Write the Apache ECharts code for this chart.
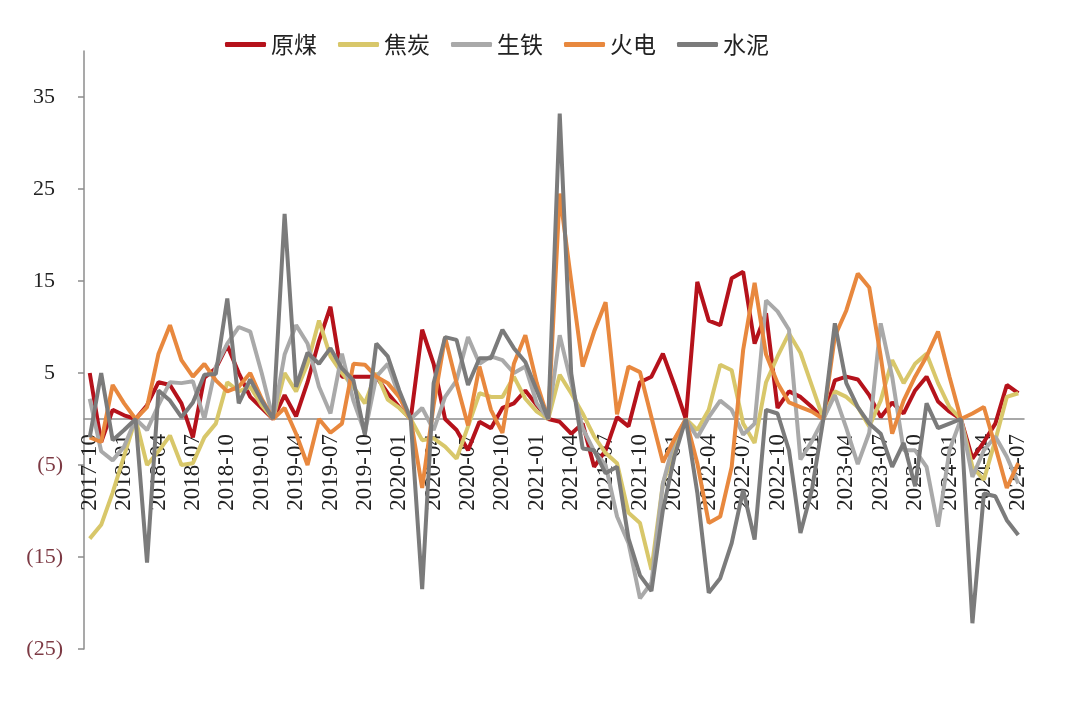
<!DOCTYPE html>
<html>
<head>
<meta charset="utf-8">
<script src="https://cdn.jsdelivr.net/npm/echarts@6/dist/echarts.min.js"></script>
<style>
  html, body { margin: 0; padding: 0; background: #fff; }
  #chart { width: 1080px; height: 723px; }
</style>
</head>
<body>
<div id="chart"></div>
<script>
// monthly categories 2017-10 .. 2024-07
var months = [
  '2017-10','2017-11','2017-12',
  '2018-01','2018-02','2018-03','2018-04','2018-05','2018-06','2018-07','2018-08','2018-09','2018-10','2018-11','2018-12',
  '2019-01','2019-02','2019-03','2019-04','2019-05','2019-06','2019-07','2019-08','2019-09','2019-10','2019-11','2019-12',
  '2020-01','2020-02','2020-03','2020-04','2020-05','2020-06','2020-07','2020-08','2020-09','2020-10','2020-11','2020-12',
  '2021-01','2021-02','2021-03','2021-04','2021-05','2021-06','2021-07','2021-08','2021-09','2021-10','2021-11','2021-12',
  '2022-01','2022-02','2022-03','2022-04','2022-05','2022-06','2022-07','2022-08','2022-09','2022-10','2022-11','2022-12',
  '2023-01','2023-02','2023-03','2023-04','2023-05','2023-06','2023-07','2023-08','2023-09','2023-10','2023-11','2023-12',
  '2024-01','2024-02','2024-03','2024-04','2024-05','2024-06','2024-07'
];

var seriesNames = ['原煤', '焦炭', '生铁', '火电', '水泥'];
var seriesColors = ['#b5121b', '#d8c76a', '#a9a9a9', '#e8883e', '#7b7b7b'];

var coal = [
  5, -2.5, 1,
  0.4, 0, 1.5, 4, 3.7, 1.7, -2, 4.5, 5.5, 8, 5, 2.4,
  1.2, 0, 2.6, 0.3, 4, 8.5, 12.2, 4.6, 4.6, 4.6, 4.6, 2.8,
  1.3, 0, 9.7, 6, 0, -1.2, -3.4, -0.3, -1, 1.2, 1.7, 3.1,
  1.5, 0, -0.3, -1.6, -0.5, -5.2, -3.4, 0.2, -0.8, 4, 4.6, 7.1,
  3.7, 0, 14.9, 10.7, 10.2, 15.3, 16, 8.2, 11.5, 1.2, 3, 2.4,
  1.3, 0, 4.2, 4.6, 4.3, 2.6, 0.2, 1.8, 0.6, 3.1, 4.6, 1.9,
  0.8, 0, -4.3, -2.5, -0.5, 3.7, 2.8
];

var coke = [
  -13, -11.5, -8,
  -4, 0, -5, -3.5, -1.8, -5, -4.8, -2, -0.5, 4, 3, 3.5,
  1.5, 0, 5, 3, 6, 10.7, 6.8, 5, 3.5, 1.7, 5, 2.1,
  1.2, 0, -2.3, -2.1, -3, -4.3, -0.8, 2.8, 2.4, 2.4, 4.6, 2.2,
  0.8, 0, 4.8, 2.8, 0.6, -1.9, -3.7, -4.8, -10.2, -11.3, -16.4, -7,
  -3.4, 0, -1.2, 1, 5.9, 5.3, -0.5, -2.6, 4, 6.8, 9.3, 7.2,
  3.6, 0, 3, 2.4, 1.3, -0.8, 2, 6.4, 3.9, 6, 7.1, 3.9,
  1.3, 0, -5.2, -6.6, -2.3, 2.4, 2.8
];

var pigIron = [
  2.2, -3.5, -4.5,
  -3, 0, -1.2, 1.5, 4, 3.9, 4.1, 0, 5.7, 8.2, 10, 9.5,
  5, 0, 7, 10.2, 8.2, 3.5, 0.6, 7.1, 2, -1.5, 4.6, 6,
  2.4, 0, 1.2, -1.2, 2.4, 4.2, 8.9, 6, 6.8, 6.4, 5, 5.7,
  1.7, 0, 9.1, 3.9, -1, -3.5, -5, -10.6, -13.5, -19.5, -17.8, -7,
  -2.3, 0, -2, 0.2, 2, 1, -1.7, -0.5, 12.9, 11.7, 9.7, -4.4,
  -2.4, 0, 2.6, -1, -4.9, -1.5, 10.4, 4.6, -3.4, -3.4, -5.2, -11.7,
  -3.4, 0, -6.3, -3.4, -1.9, -4.1, -7
];

var thermal = [
  -2, -2.5, 3.7,
  1.7, 0, 1.3, 7.1, 10.2, 6.4, 4.6, 6, 4.2, 3, 3.5, 5,
  2.2, 0, 1.2, -1.6, -5, 0, -1.5, -0.5, 6, 5.9, 4.6, 3.9,
  2.4, 0, -7.5, 1.5, 8.9, 3.9, -0.7, 5.7, 1, -1.5, 6, 9.1,
  3.9, 0, 24.5, 15, 5.7, 9.5, 12.7, 0.5, 5.7, 5.1, 0.2, -4.7,
  -2.2, 0, -4.8, -11.3, -10.6, -5.2, 7.5, 14.8, 7, 3.9, 1.8, 1.3,
  0.8, 0, 9, 11.8, 15.8, 14.3, 6.8, -1.6, 2, 4.6, 6.8, 9.5,
  4.6, 0, 0.6, 1.3, -3, -7.5, -4.8
];

var cement = [
  -2, 5, -2.3,
  -1.2, 0, -15.6, 3.1, 2, 0.2, 1.8, 4.8, 4.9, 13.1, 1.7, 4.3,
  2, 0, 22.3, 3.5, 7.2, 6, 7.7, 5.5, 4.2, -1.7, 8.2, 6.8,
  3.1, 0, -18.5, 3.9, 8.9, 8.6, 3.7, 6.6, 6.6, 9.7, 7.7, 6.2,
  3.1, 0, 33.2, 5, -3.2, -3.4, -5.9, -5.2, -13, -17, -18.7, -9.9,
  -4.1, 0, -8, -18.9, -17.3, -13.5, -7.7, -13.1, 1, 0.6, -3.4, -12.4,
  -7.7, 0, 10.4, 3.9, 1.3, -0.5, -1.6, -5.2, -2.6, -7.3, 1.7, -1,
  -0.5, 0, -22.2, -8.1, -8.4, -11, -12.6
];

var yTicks = [-25, -15, -5, 5, 15, 25, 35];
var yMin = -25, yMax = 40;

var seriesData = [coal, coke, pigIron, thermal, cement];

var gridTop = 51, gridBottom = 74;
var gridH = 723 - gridTop - gridBottom;
// lift the category axis up to the zero line
var zeroOffset = -gridH * (0 - yMin) / (yMax - yMin);

var chart = echarts.init(document.getElementById('chart'));

var option = {
  animation: false,
  backgroundColor: '#fff',
  legend: {
    top: 28,
    left: 220,
    icon: 'roundRect',
    itemWidth: 41,
    itemHeight: 5,
    itemGap: 21,
    textStyle: { fontSize: 23, color: '#222', fontFamily: 'Noto Sans CJK SC' },
    data: seriesNames
  },
  grid: { left: 84, right: 56, top: gridTop, bottom: gridBottom, outerBoundsMode: 'none' },
  xAxis: {
    type: 'category',
    data: months,
    boundaryGap: true,
    offset: zeroOffset,
    axisLine: { onZero: false, lineStyle: { color: '#8c8c8c', width: 1.5 } },
    axisTick: { interval: 2, length: 5, lineStyle: { color: '#8c8c8c', width: 1.5 } },
    axisLabel: {
      interval: 2,
      rotate: 90,
      margin: 15,
      fontSize: 23,
      fontFamily: 'Liberation Serif',
      color: '#222'
    }
  },
  yAxis: {
    type: 'value',
    min: yMin,
    max: yMax,
    interval: 10,
    splitLine: { show: false },
    axisLine: { show: true, lineStyle: { color: '#8c8c8c', width: 1.5 } },
    axisTick: { show: true, length: 6, customValues: yTicks, lineStyle: { color: '#8c8c8c', width: 1.5 } },
    axisLabel: {
      customValues: yTicks,
      margin: 21,
      formatter: function (v) {
        return v < 0 ? '{n|(' + (-v) + ')}' : '{p|' + v + '}';
      },
      rich: {
        n: { color: '#7d3a44', fontSize: 22, fontFamily: 'Liberation Serif' },
        p: { color: '#222', fontSize: 22, fontFamily: 'Liberation Serif', padding: [0, 8, 0, 0] }
      }
    }
  },
  series: seriesNames.map(function (name, k) {
    return {
      name: name,
      type: 'line',
      data: seriesData[k],
      symbol: 'none',
      color: seriesColors[k],
      lineStyle: { width: 4, color: seriesColors[k] }
    };
  })
};

chart.setOption(option);
</script>
</body>
</html>
